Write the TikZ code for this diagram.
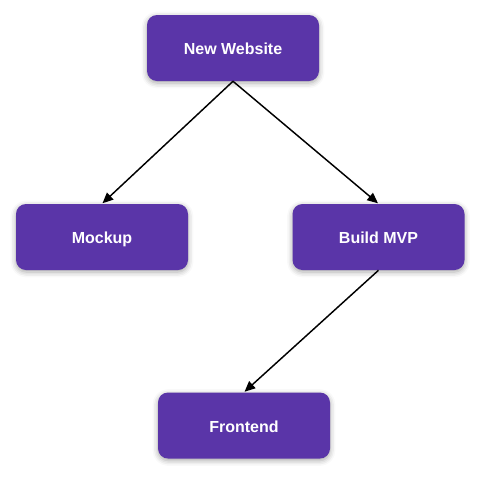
\documentclass[tikz,border=0pt]{standalone}
\usepackage{fontspec}
\setmainfont{Liberation Sans}
\usetikzlibrary{arrows.meta,shadows.blur}
\definecolor{boxpurple}{HTML}{5A35A8}
\tikzset{
  box/.style={fill=boxpurple, draw=none, rounded corners=7.5pt, minimum width=129pt, minimum height=49.5pt,
    text=white, font=\bfseries\fontsize{12pt}{14pt}\selectfont, inner sep=0pt,
    text height=12.6pt, text depth=2.6pt,
    blur shadow={shadow xshift=0pt, shadow yshift=-1.5pt, shadow blur radius=4pt, shadow opacity=35}},
  conn/.style={draw=black, line width=1.1pt, -{Triangle[length=8pt,width=7pt]}, shorten >=0.5pt}
}
\begin{document}
\begin{tikzpicture}[x=0.75pt,y=-0.75pt]
\useasboundingbox (0,0) rectangle (482,479);
\node[box] (nw) at (233,48) {New Website};
\node[box] (mk) at (102,237) {Mockup};
\node[box] (mvp) at (378.5,237) {Build MVP};
\node[box] (fe) at (244,425.5) {Frontend};
\draw[conn] (nw.south) -- (mk.north);
\draw[conn] (nw.south) -- (mvp.north);
\draw[conn] (mvp.south) -- (fe.north);
\end{tikzpicture}
\end{document}
